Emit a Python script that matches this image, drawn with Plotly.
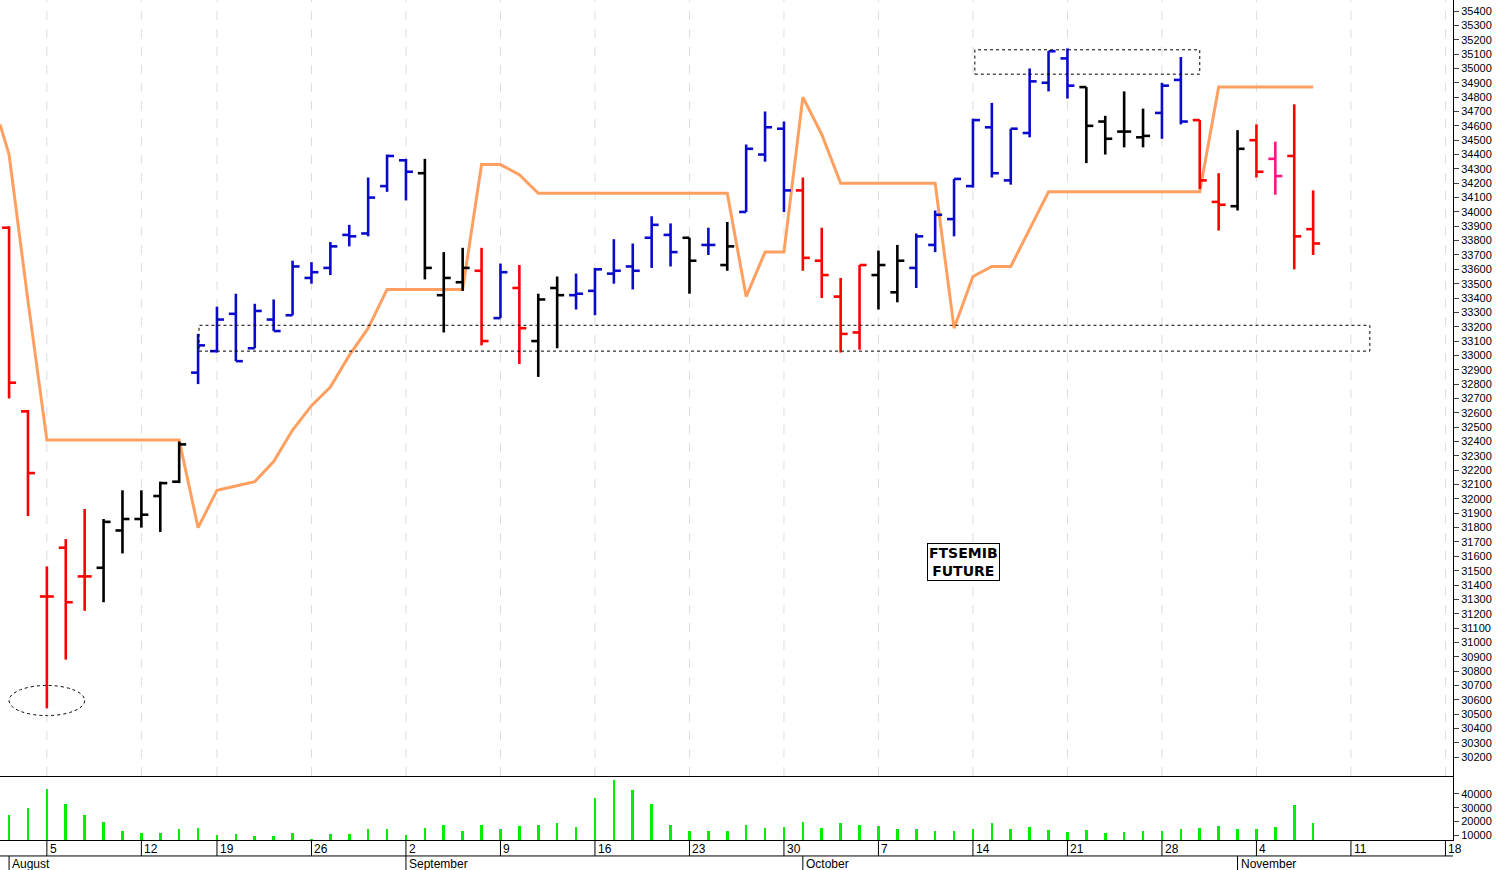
import plotly.graph_objects as go
from plotly.subplots import make_subplots

opens  = [33890,32610,31320,31660,31460,31520,31780,31860,32020,32120,
          32880,33030,33290,33050,33250,33280,33540,33610,33840,33850,
          34180,34360,34270,33420,33510,33590,33260,33470,33100,33470,
          33420,33450,33570,33620,33820,33840,33820,33770,33630,34000,
          34400,34580,34150,33660,33410,33160,33560,33440,33610,33770,
          33950,34180,34590,34220,34550,34900,35070,34870,34630,34560,
          34520,34690,34920,34640,34070,34040,34500,34370,34390,33880]
highs  = [33900,32620,31530,31720,31930,31860,32060,32060,32120,32400,
          33150,33340,33430,33360,33390,33660,33650,33790,33910,34240,
          34400,34370,34370,33720,33750,33750,33640,33630,33430,33550,
          33570,33610,33810,33780,33970,33920,33820,33890,33930,34470,
          34700,34630,34240,33890,33540,33630,33730,33770,33850,34010,
          34230,34650,34760,34580,35000,35120,35140,34870,34670,34840,
          34720,34900,35080,34640,34270,34570,34610,34490,34750,34150]
lows   = [32700,31880,30540,30880,31220,31280,31620,31800,31770,32110,
          32800,33020,32960,33050,33170,33280,33500,33560,33760,33830,
          34140,34080,33530,33160,33450,33070,33260,32940,32850,33050,
          33320,33280,33500,33460,33610,33620,33430,33700,33590,34000,
          34350,34000,33590,33400,33020,33040,33320,33370,33470,33720,
          33830,34170,34240,34190,34520,34840,34790,34340,34400,34450,
          34450,34510,34610,34160,33870,34010,34240,34120,33600,33700]
closes = [32810,32180,31320,31280,31460,31840,31860,31890,32110,32380,
          33070,33250,32960,33310,33170,33620,33580,33760,33830,34100,
          34390,34280,33610,33540,33610,33100,33580,33190,33390,33420,
          33430,33600,33590,33590,33910,33720,33660,33770,33760,34440,
          34590,34150,33680,33560,33150,33630,33630,33660,33830,33980,
          34230,34640,34270,34580,34910,35120,34880,34600,34510,34560,
          34530,34880,34630,34220,34050,34440,34280,34250,33830,33780]
colors = list("rrrrrkkkkkbbbbbbbbbbbbkkkrbrkkbbbbbbkbkbbbrrrrkkbbbbbbbbbkkkkbbrrkrprr")
stop_x = [-0.48] + list(range(70))
stop_line = [34610,
             34400,33380,32410,32410,32410,32410,32410,32410,32410,32410,
             31800,32060,32090,32120,32260,32480,32650,32780,33000,33190,
             33460,33460,33460,33460,33460,34330,34330,34260,34130,34130,
             34130,34130,34130,34130,34130,34130,34130,34130,34130,33410,
             33720,33720,34800,34540,34200,34200,34200,34200,34200,34200,
             33190,33550,33620,33620,33880,34140,34140,34140,34140,34140,
             34140,34140,34140,34140,34870,34870,34870,34870,34870,34870]
volumes = [24600,29700,43600,32700,24600,19500,12900,11500,11500,14400,
           15100,10000,10700,9300,9300,11500,7000,10700,10700,14400,
           14400,10000,15100,17300,12900,17300,14400,16600,17300,18800,
           15800,37000,50200,42900,32700,17300,12900,12900,12900,17300,
           15100,15800,19500,15100,18800,17300,16600,14400,14400,12900,
           12900,14400,18800,14400,15800,13600,12200,13600,11500,12200,
           12900,12900,14400,15100,16600,14400,14400,15800,32000,18800]
day_tick_pos = [2,7,11,16,21,26,31,36,41,46,51,56,61,66,71,76]
day_tick_lab = ["5","12","19","26","2","9","16","23","30","7","14","21","28","4","11","18"]
month_pos = [0,21,42,65]
month_lab = ["August","September","October","November"]

cmap = {"r": "#ff0000", "b": "#0a0acc", "k": "#000000", "p": "#ff1480"}
n = len(opens)
xs = list(range(n))
tw = 0.37

fig = make_subplots(rows=2, cols=1, shared_xaxes=True, vertical_spacing=0,
                    row_heights=[0.9238, 0.0762])

fig.add_trace(go.Scatter(x=stop_x, y=stop_line, mode="lines",
                         line=dict(color="#ffa060", width=3), hoverinfo="skip"), row=1, col=1)

for key, col in cmap.items():
    X, Y = [], []
    for i in range(n):
        if colors[i] != key:
            continue
        X += [i, i, None, i - tw, i, None, i, i + tw, None]
        Y += [lows[i], highs[i], None, opens[i], opens[i], None, closes[i], closes[i], None]
    fig.add_trace(go.Scatter(x=X, y=Y, mode="lines", line=dict(color=col, width=2.6),
                             hoverinfo="skip"), row=1, col=1)

fig.add_trace(go.Bar(x=xs, y=volumes, width=0.14, marker=dict(color="#00ee00", line_width=0)),
              row=2, col=1)

xr = [-0.48, 76.4]
for r in (1, 2):
    fig.update_xaxes(range=xr, showticklabels=False, ticks="", showgrid=False,
                     zeroline=False, row=r, col=1)
fig.update_xaxes(showline=True, linecolor="black", linewidth=1, row=2, col=1)
fig.update_xaxes(showline=True, linecolor="black", linewidth=1, side="bottom", row=1, col=1)

fig.update_yaxes(side="right", range=[30069, 35477], tickvals=list(range(30200, 35401, 100)),
                 tickformat="d", ticks="outside", ticklen=5, showgrid=False, zeroline=False,
                 showline=True, linecolor="black",
                 tickfont=dict(family="Arial", size=11, color="black"), row=1, col=1)
fig.update_yaxes(side="right", range=[6340, 53170], tickvals=[10000, 20000, 30000, 40000],
                 tickformat="d", ticks="outside", ticklen=5, showgrid=False, zeroline=False,
                 showline=True, linecolor="black",
                 tickfont=dict(family="Arial", size=11, color="black"), row=2, col=1)

shapes = []
for p in day_tick_pos:
    shapes.append(dict(type="line", xref="x", yref="paper", x0=p, x1=p, y0=0.0762, y1=1,
                       line=dict(color="#dddddd", width=1, dash="dash"), layer="below"))
    shapes.append(dict(type="line", xref="x", yref="paper", x0=p, x1=p, y0=-0.019, y1=0,
                       line=dict(color="black", width=1)))
shapes.append(dict(type="line", xref="paper", yref="paper", x0=0, x1=1, y0=-0.019, y1=-0.019,
                   line=dict(color="black", width=1)))
for p in month_pos:
    shapes.append(dict(type="line", xref="x", yref="paper", x0=p, x1=p, y0=-0.04, y1=-0.019,
                       line=dict(color="black", width=1)))
shapes.append(dict(type="rect", xref="x", yref="y", x0=51.1, x1=63.0, y0=34960, y1=35130,
                   line=dict(color="black", width=1, dash="dot")))
shapes.append(dict(type="rect", xref="x", yref="y", x0=10.05, x1=72.0, y0=33030, y1=33210,
                   line=dict(color="black", width=1, dash="dot")))
shapes.append(dict(type="circle", xref="x", yref="y", x0=0, x1=4.0, y0=30490, y1=30700,
                   line=dict(color="black", width=1, dash="dot")))

ann = []
for p, t in zip(day_tick_pos, day_tick_lab):
    ann.append(dict(x=p, y=-0.0005, xref="x", yref="paper", text=t, showarrow=False,
                    xanchor="left", yanchor="top", xshift=1,
                    font=dict(family="Arial", size=12, color="black")))
for p, t in zip(month_pos, month_lab):
    ann.append(dict(x=p, y=-0.019, xref="x", yref="paper", text=t, showarrow=False,
                    xanchor="left", yanchor="top", xshift=1, yshift=1,
                    font=dict(family="Arial", size=12, color="black")))
ann.append(dict(x=50.5, y=31560, xref="x", yref="y", text="<b>FTSEMIB<br>FUTURE</b>",
                showarrow=False, bordercolor="black", borderwidth=1, borderpad=1, bgcolor="white",
                font=dict(family="DejaVu Sans", size=14, color="black")))

fig.update_layout(width=1503, height=870, margin=dict(l=0, r=50, t=0, b=30),
                  paper_bgcolor="white", plot_bgcolor="white", showlegend=False,
                  shapes=shapes, annotations=ann, bargap=0)
fig.write_html("out.html", config={"displayModeBar": False},
               post_script="document.body.style.margin='0';document.body.style.overflow='hidden';")
